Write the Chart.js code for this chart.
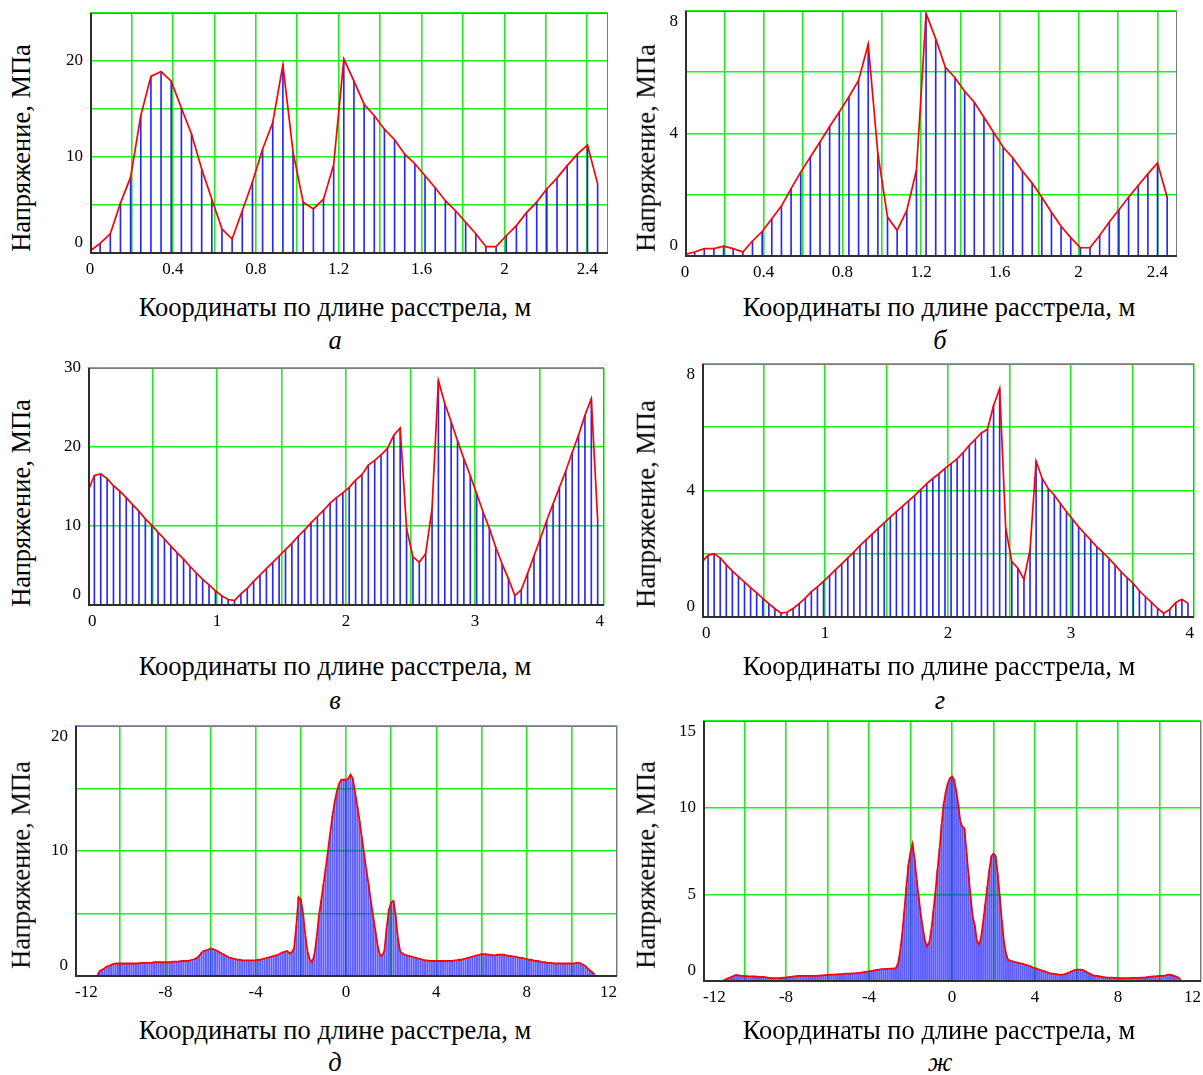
<!DOCTYPE html>
<html><head><meta charset="utf-8">
<script src="https://cdn.jsdelivr.net/npm/chart.js@4.4.1/dist/chart.umd.min.js"></script>
<style>
html,body{margin:0;padding:0;background:#fff;}
body{width:1203px;height:1075px;overflow:hidden;position:relative;}
canvas{position:absolute;}
.t{position:absolute;font-family:"Liberation Serif","Times New Roman",serif;font-size:26.5px;color:#000;white-space:nowrap;transform:translate(-50%,-50%);line-height:1;}
.r{transform:translate(-50%,-50%) rotate(-90deg);font-size:26.5px;}
.c{font-style:italic;}
</style></head><body>
<script>
// ---------- DATA ----------
const titleX = 'Координаты по длине расстрела, м';
const titleY = 'Напряжение, МПа';
const captions = ['а', 'б', 'в', 'г', 'д', 'ж'];

// sample grids (first x, last x) of each series
const xSpanA = [0, 2.45], xSpanB = [0, 2.45], xSpanV = [0, 3.951], xSpanG = [0, 3.951], xSpanD = [-11, 11], xSpanZh = [-11, 11];

const stressA = [0.2, 1.0, 2.0, 5.2, 7.9, 14.3, 18.4, 18.9, 17.9, 15.1, 12.4, 8.75, 5.6, 2.5, 1.46, 4.4, 7.4, 10.8, 13.6, 19.6,
  10.5, 5.3, 4.6, 5.6, 9.2, 20.2, 17.9, 15.5, 14.3, 12.9, 11.8, 10.3, 9.3, 8.05, 6.8, 5.45, 4.4, 3.2, 2.0, 0.66,
  0.66, 1.8, 2.85, 4.2, 5.3, 6.7, 7.8, 9.1, 10.3, 11.25, 7.2];

const stressB = [0.05, 0.13, 0.24, 0.24, 0.32, 0.24, 0.13, 0.49, 0.80, 1.22, 1.63, 2.2, 2.74, 3.23, 3.72, 4.23, 4.7, 5.2, 5.73, 6.92,
  3.34, 1.27, 0.84, 1.49, 2.8, 7.92, 7.09, 6.16, 5.82, 5.38, 5.02, 4.53, 4.04, 3.55, 3.2, 2.77, 2.38, 1.92, 1.43, 0.97,
  0.6, 0.27, 0.27, 0.67, 1.11, 1.51, 1.92, 2.3, 2.68, 3.04, 1.92];

const stressV = [14.4, 16.4, 16.6, 16.0, 15.1, 14.4, 13.6, 12.7, 11.85, 10.9, 10.1, 9.2, 8.35, 7.45, 6.6, 5.8, 4.9, 4.05, 3.25, 2.55,
  1.8, 1.15, 0.7, 0.55, 1.4, 2.1, 3.0, 3.8, 4.6, 5.4, 6.2, 7.0, 7.8, 8.7, 9.5, 10.4, 11.2, 12.0, 12.9, 13.6,
  14.2, 14.9, 15.8, 16.5, 17.7, 18.3, 19.0, 19.8, 21.5, 22.4, 9.7, 6.1, 5.4, 6.5, 12.2, 28.4, 25.5, 23.2, 20.8, 18.5,
  16.4, 14.1, 11.8, 9.7, 7.3, 5.2, 3.3, 1.2, 1.9, 4.0, 6.2, 8.4, 10.7, 12.8, 14.9, 17.0, 19.3, 21.5, 24.0, 26.1, 10.7];

const stressG = [1.74, 1.95, 2.0, 1.87, 1.65, 1.45, 1.28, 1.1, 0.93, 0.76, 0.59, 0.42, 0.26, 0.12, 0.15, 0.27, 0.42, 0.6, 0.8, 0.95,
  1.13, 1.31, 1.5, 1.68, 1.87, 2.05, 2.26, 2.44, 2.62, 2.8, 2.98, 3.16, 3.33, 3.5, 3.67, 3.84, 4.03, 4.22, 4.38, 4.53,
  4.7, 4.85, 5.0, 5.2, 5.43, 5.62, 5.82, 5.94, 6.69, 7.22, 2.8, 1.75, 1.54, 1.19, 2.12, 4.93, 4.38, 4.06, 3.85, 3.59,
  3.33, 3.09, 2.85, 2.64, 2.43, 2.22, 2.04, 1.85, 1.64, 1.43, 1.24, 1.06, 0.83, 0.64, 0.46, 0.27, 0.12, 0.24, 0.46, 0.56, 0.43];

const stressD = [
  0.1, 0.4, 0.5, 0.6, 0.75, 0.8, 0.9, 0.95, 1.0, 1.0,
  1.0, 1.0, 1.0, 1.0, 1.0, 1.0, 1.0, 1.0, 1.0, 1.05,
  1.05, 1.05, 1.05, 1.05, 1.05, 1.1, 1.1, 1.1, 1.1, 1.1,
  1.1, 1.1, 1.1, 1.15, 1.15, 1.15, 1.15, 1.2, 1.2, 1.2,
  1.2, 1.25, 1.3, 1.35, 1.45, 1.6, 1.85, 2.0, 2.05, 2.1,
  2.2, 2.15, 2.1, 2.0, 1.9, 1.8, 1.7, 1.6, 1.5, 1.45,
  1.4, 1.35, 1.3, 1.3, 1.25, 1.25, 1.25, 1.25, 1.25, 1.25,
  1.25, 1.3, 1.3, 1.35, 1.4, 1.45, 1.5, 1.55, 1.6, 1.65,
  1.7, 1.8, 1.9, 1.95, 2.0, 1.8, 1.9, 2.2, 4.0, 6.3,
  6.1, 5.0, 3.2, 1.9, 1.3, 1.1, 1.7, 3.0, 4.8, 6.0,
  7.3, 8.6, 10.0, 11.4, 12.8, 13.9, 14.8, 15.4, 15.7, 15.7,
  15.7, 15.8, 16.1, 15.8, 14.7, 13.6, 12.4, 11.1, 9.8, 8.5,
  7.3, 6.0, 4.8, 3.6, 2.4, 1.7, 1.6, 2.0, 3.8, 5.3,
  5.9, 6.0, 4.8, 3.0, 1.95, 1.8, 1.7, 1.65, 1.6, 1.55,
  1.5, 1.45, 1.4, 1.35, 1.3, 1.25, 1.25, 1.2, 1.2, 1.2,
  1.2, 1.2, 1.2, 1.2, 1.2, 1.2, 1.2, 1.2, 1.25, 1.25,
  1.3, 1.3, 1.35, 1.4, 1.45, 1.5, 1.55, 1.6, 1.65, 1.7,
  1.75, 1.75, 1.75, 1.7, 1.7, 1.65, 1.65, 1.7, 1.7, 1.7,
  1.7, 1.65, 1.6, 1.6, 1.55, 1.55, 1.5, 1.45, 1.45, 1.4,
  1.35, 1.3, 1.3, 1.25, 1.2, 1.2, 1.15, 1.1, 1.1, 1.05,
  1.05, 1.05, 1.0, 1.0, 1.0, 1.0, 1.0, 1.0, 1.0, 1.0,
  1.0, 1.0, 1.05, 1.05, 1.0, 0.9, 0.8, 0.6, 0.45, 0.3,
  0.15];

const stressZh = [
  0.05, 0.1, 0.15, 0.2, 0.25, 0.3, 0.35, 0.33, 0.3, 0.3,
  0.28, 0.28, 0.27, 0.27, 0.26, 0.26, 0.25, 0.24, 0.23, 0.23,
  0.22, 0.2, 0.18, 0.17, 0.17, 0.17, 0.17, 0.17, 0.18, 0.19,
  0.2, 0.22, 0.23, 0.25, 0.27, 0.28, 0.29, 0.3, 0.3, 0.3,
  0.3, 0.3, 0.29, 0.29, 0.29, 0.3, 0.31, 0.32, 0.33, 0.34,
  0.35, 0.36, 0.37, 0.37, 0.38, 0.38, 0.39, 0.4, 0.41, 0.42,
  0.42, 0.43, 0.44, 0.44, 0.45, 0.46, 0.48, 0.5, 0.52, 0.54,
  0.56, 0.58, 0.6, 0.62, 0.64, 0.66, 0.68, 0.69, 0.7, 0.7,
  0.71, 0.71, 0.72, 0.75, 1.0, 1.7, 2.7, 4.0, 5.4, 6.7,
  7.4, 7.9, 7.0, 5.8, 4.8, 3.8, 3.0, 2.3, 2.0, 2.2,
  2.9, 4.0, 5.1, 6.4, 7.6, 9.0, 10.2, 10.9, 11.4, 11.7,
  11.8, 11.6, 11.0, 10.2, 9.2, 8.9, 8.8, 7.4, 6.1, 4.8,
  3.7, 3.2, 2.3, 2.1, 2.5, 3.4, 4.4, 5.4, 6.4, 7.2,
  7.35, 7.2, 6.2, 4.9, 3.5, 2.3, 1.6, 1.23, 1.18, 1.14,
  1.1, 1.08, 1.05, 1.02, 1.0, 0.95, 0.92, 0.88, 0.84, 0.78,
  0.74, 0.7, 0.66, 0.62, 0.58, 0.54, 0.5, 0.46, 0.43, 0.42,
  0.4, 0.38, 0.37, 0.37, 0.38, 0.42, 0.47, 0.52, 0.58, 0.63,
  0.65, 0.66, 0.66, 0.64, 0.58, 0.5, 0.44, 0.38, 0.33, 0.3,
  0.29, 0.27, 0.25, 0.23, 0.21, 0.2, 0.19, 0.19, 0.18, 0.18,
  0.17, 0.17, 0.17, 0.17, 0.17, 0.17, 0.17, 0.18, 0.18, 0.18,
  0.18, 0.19, 0.19, 0.2, 0.22, 0.24, 0.25, 0.26, 0.27, 0.28,
  0.29, 0.29, 0.3, 0.32, 0.35, 0.36, 0.34, 0.3, 0.25, 0.2,
  0.1];

// tick labels
const xTicksA = [0, 0.4, 0.8, 1.2, 1.6, 2, 2.4];
const xTicksB = [0, 0.4, 0.8, 1.2, 1.6, 2, 2.4];
const xTicksV = [0, 1, 2, 3, 4];
const xTicksG = [0, 1, 2, 3, 4];
const xTicksD = [-12, -8, -4, 0, 4, 8, 12];
const xTicksZh = [-12, -8, -4, 0, 4, 8, 12];
const yTicksA = [0, 10, 20];
const yTicksB = [0, 4, 8];
const yTicksV = [0, 10, 20, 30];
const yTicksG = [0, 4, 8];
const yTicksD = [0, 10, 20];
const yTicksZh = [0, 5, 10, 15];

// ---------- LAYOUT / STYLE ----------
const FONT = '"Liberation Serif", "Times New Roman", serif';
const GRID = 'rgb(30,238,30)';
const panels = [
  {vals: stressA, xs: xSpanA, xr: [0, 2.5], xStep: 0.2, yr: [0, 25], yStep: 5, xLab: xTicksA, yLab: yTicksA,
   box: [90, 13, 608, 253], align: 'center', dense: false, topDrop: false, xt: [335, 307], yt: [21, 148], cap: [335, 340]},
  {vals: stressB, xs: xSpanB, xr: [0, 2.5], xStep: 0.2, yr: [0, 8], yStep: 2, xLab: xTicksB, yLab: yTicksB,
   box: [685, 11, 1177, 256], align: 'center', dense: false, topDrop: true, xt: [939, 307], yt: [646, 148], cap: [940, 340]},
  {vals: stressV, xs: xSpanV, xr: [0, 4], xStep: 0.5, yr: [0, 30], yStep: 10, xLab: xTicksV, yLab: yTicksV,
   box: [88, 368, 604, 605], align: 'inner', dense: false, topDrop: false, xt: [335, 666], yt: [21, 503], cap: [335, 700]},
  {vals: stressG, xs: xSpanG, xr: [0, 4], xStep: 0.5, yr: [0, 8], yStep: 2, xLab: xTicksG, yLab: yTicksG,
   box: [702, 364, 1194, 617], align: 'inner', dense: false, topDrop: true, xt: [939, 666], yt: [646, 504], cap: [940, 700]},
  {vals: stressD, xs: xSpanD, xr: [-12, 12], xStep: 2, yr: [0, 20], yStep: 5, xLab: xTicksD, yLab: yTicksD,
   box: [75, 726, 617, 976], align: 'inner', dense: true, topDrop: true, xt: [335, 1030], yt: [21, 865], cap: [335, 1062]},
  {vals: stressZh, xs: xSpanZh, xr: [-12, 12], xStep: 2, yr: [0, 15], yStep: 5, xLab: xTicksZh, yLab: yTicksZh,
   box: [703, 721, 1201, 981], align: 'inner', dense: true, topDrop: true, xt: [939, 1030], yt: [646, 865], cap: [940, 1062]}
];

const frame = {
  id: 'frame',
  afterDatasetsDraw(c) {
    const {ctx, chartArea: a} = c;
    ctx.save();
    ctx.lineWidth = 1; ctx.strokeStyle = '#7a7a7a';
    ctx.beginPath(); ctx.moveTo(a.left, a.top + 0.5); ctx.lineTo(a.right - 0.5, a.top + 0.5); ctx.lineTo(a.right - 0.5, a.bottom); ctx.stroke();
    ctx.lineWidth = 2; ctx.strokeStyle = '#2e2e2e';
    ctx.beginPath(); ctx.moveTo(a.left + 1, a.top); ctx.lineTo(a.left + 1, a.bottom); ctx.lineTo(a.right, a.bottom); ctx.stroke();
    ctx.restore();
  }
};

function has(list, v) { return list.some(t => Math.abs(t - v) < 1e-6); }

function addText(txt, pos, cls) {
  const d = document.createElement('div');
  d.className = 't ' + cls;
  d.textContent = txt;
  d.style.left = pos[0] + 'px'; d.style.top = pos[1] + 'px';
  document.body.appendChild(d);
}

panels.forEach((p, k) => {
  const [L, T, R, B] = p.box;
  const padL = 48, padT = 14, padR = 16, padB = 34;
  const w = R - L + padL + padR, h = B - T + padT + padB;
  const cv = document.createElement('canvas');
  cv.style.left = (L - padL) + 'px'; cv.style.top = (T - padT) + 'px';
  cv.style.width = w + 'px'; cv.style.height = h + 'px';
  cv.width = w; cv.height = h;
  document.body.appendChild(cv);
  const n = p.vals.length;
  const pts = p.vals.map((v, i) => ({x: p.xs[0] + i * (p.xs[1] - p.xs[0]) / (n - 1), y: v}));
  const gridColor = (minV) => (ctx) => (ctx.tick && Math.abs(ctx.tick.value - minV) < 1e-6) ? 'rgba(0,0,0,0)' : GRID;
  new Chart(cv, {
    type: 'bar',
    data: {datasets: [
      {type: 'line', data: pts, borderColor: '#ff0000', borderWidth: p.dense ? 1.8 : 1.7, pointRadius: 0, tension: 0, fill: false, order: 0},
      {type: 'bar', data: pts, backgroundColor: p.dense ? 'rgba(30,30,255,0.72)' : 'rgba(0,0,255,0.85)',
       barThickness: p.dense ? 1.3 : 1, borderWidth: 0, grouped: false, order: 1}
    ]},
    options: {
      responsive: false, animation: false,
      layout: {padding: {left: 0, top: padT, right: padR, bottom: 0}},
      plugins: {legend: {display: false}, tooltip: {enabled: false}},
      scales: {
        x: {type: 'linear', min: p.xr[0], max: p.xr[1], offset: false,
          grid: {color: gridColor(p.xr[0]), lineWidth: 1.6, drawTicks: false, offset: false},
          border: {display: false},
          ticks: {stepSize: p.xStep, maxTicksLimit: 500, autoSkip: false, includeBounds: false, maxRotation: 0, minRotation: 0,
            align: p.align, padding: 6, color: '#000', font: {family: FONT, size: 17},
            callback: v => has(p.xLab, v) ? String(v) : ''},
          afterFit: s => { s.height = padB; s.paddingLeft = 0; s.paddingRight = 0; }},
        y: {type: 'linear', min: p.yr[0], max: p.yr[1],
          grid: {color: gridColor(p.yr[0]), lineWidth: 1.6, drawTicks: false},
          border: {display: false},
          ticks: {stepSize: p.yStep, maxTicksLimit: 500, autoSkip: false, includeBounds: false, padding: 7, color: '#000',
            font: {family: FONT, size: 17},
            callback: v => {
              if (!has(p.yLab, v)) return '';
              if (Math.abs(v - p.yr[0]) < 1e-6) return [String(v), ''];
              if (p.topDrop && Math.abs(v - p.yr[1]) < 1e-6) return ['', String(v)];
              return String(v);
            }},
          afterFit: s => { s.width = padL; s.paddingTop = 0; s.paddingBottom = 0; }}
      }
    },
    plugins: [frame]
  });
  addText(titleX, p.xt, '');
  addText(titleY, p.yt, 'r');
  addText(captions[k], p.cap, 'c');
});
</script>
</body></html>
